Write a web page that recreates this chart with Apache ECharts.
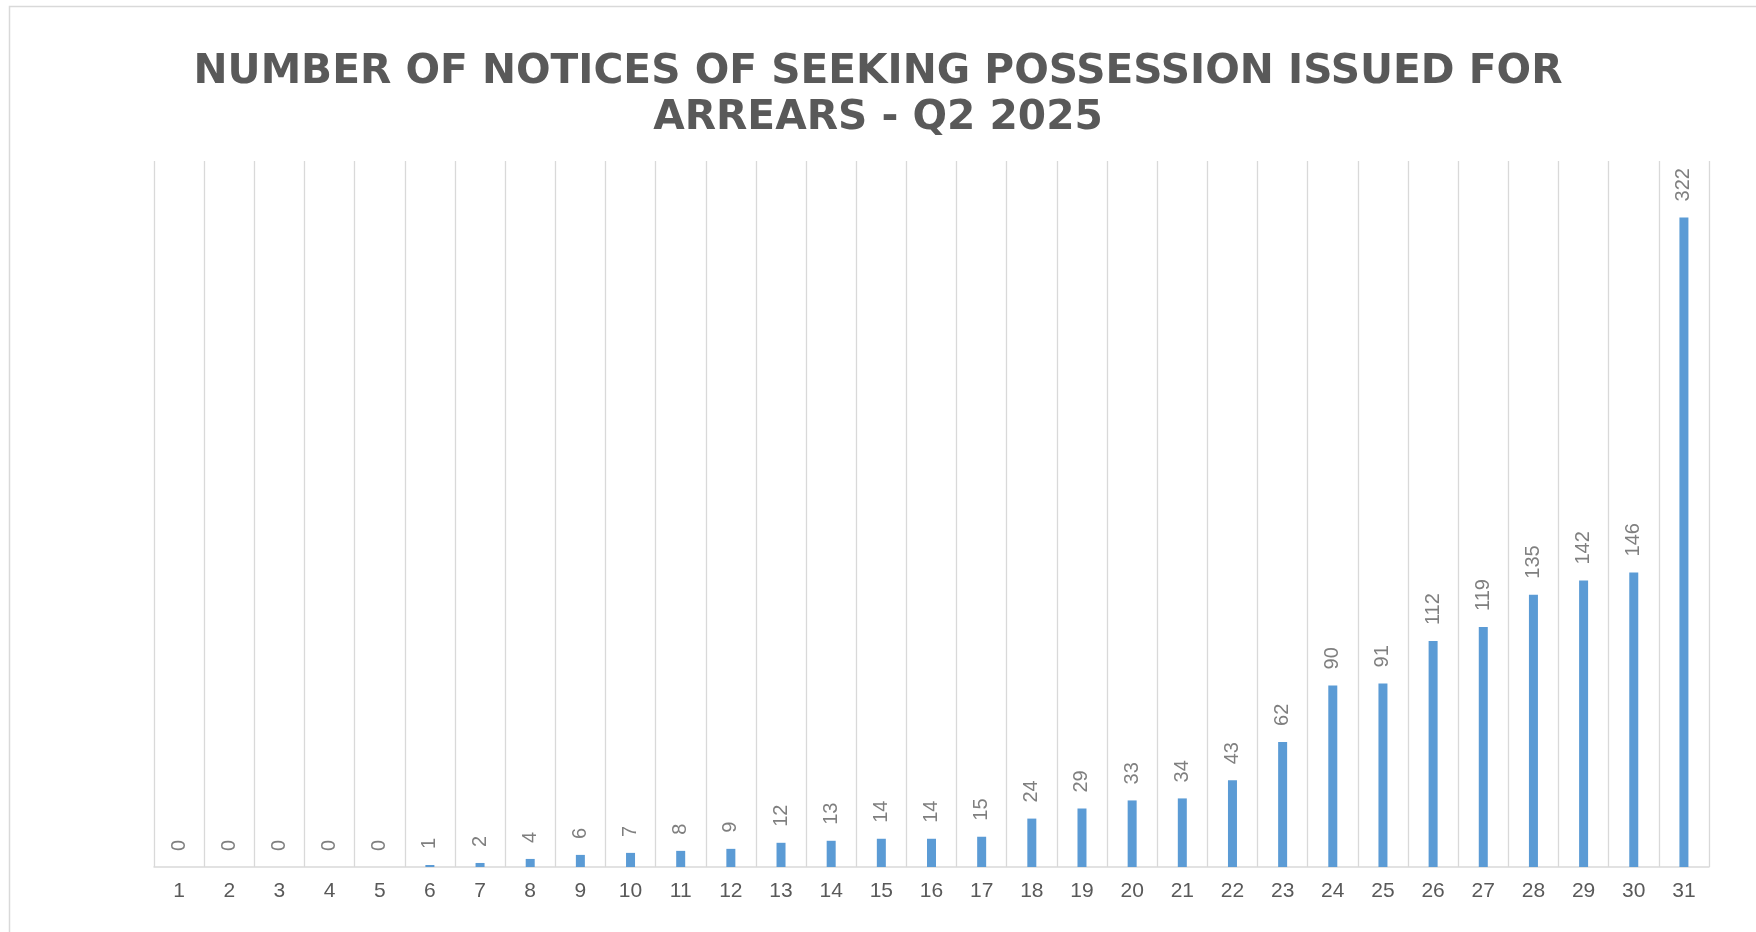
<!DOCTYPE html>
<html>
<head>
<meta charset="utf-8">
<script src="https://cdn.jsdelivr.net/npm/echarts@6/dist/echarts.min.js"></script>
<style>
  html, body { margin: 0; padding: 0; background: #ffffff; }
  #chart { width: 1756px; height: 932px; }
</style>
</head>
<body>
<div id="chart"></div>
<script>
// Week numbers along the bottom axis
const weeks = ['1','2','3','4','5','6','7','8','9','10','11','12','13','14','15','16',
  '17','18','19','20','21','22','23','24','25','26','27','28','29','30','31'];

// Notices of seeking possession issued for arrears
const notices = [0, 0, 0, 0, 0, 1, 2, 4, 6, 7, 8, 9, 12, 13, 14, 14, 15, 24, 29, 33,
  34, 43, 62, 90, 91, 112, 119, 135, 142, 146, 322];

const titleText = 'NUMBER OF NOTICES OF SEEKING POSSESSION ISSUED FOR\nARREARS - Q2 2025';

const chart = echarts.init(document.getElementById('chart'), null, { renderer: 'canvas' });

chart.setOption({
  backgroundColor: '#ffffff',
  animation: false,
  title: {
    text: titleText,
    left: 'center',
    top: 44,
    textStyle: {
      fontFamily: 'DejaVu Sans',
      fontWeight: 'bold',
      fontSize: 40.7,
      lineHeight: 46,
      color: '#595959'
    }
  },
  graphic: [{
    type: 'rect',
    silent: true,
    shape: { x: 9.5, y: 6.5, width: 1800, height: 1000 },
    style: { fill: 'none', stroke: '#d9d9d9', lineWidth: 1.5 }
  }],
  grid: {
    left: 154,
    right: 47,
    top: 161,
    bottom: 65,
    containLabel: false
  },
  xAxis: {
    type: 'category',
    data: weeks,
    boundaryGap: true,
    axisLine: { show: true, lineStyle: { color: '#d9d9d9', width: 1.5 } },
    axisTick: { show: false },
    axisLabel: {
      color: '#595959',
      fontFamily: 'Liberation Sans',
      fontSize: 21,
      margin: 14,
      interval: 0
    },
    splitLine: { show: true, lineStyle: { color: '#d9d9d9', width: 1.3 } }
  },
  yAxis: {
    type: 'value',
    min: 0,
    max: 350,
    interval: 50,
    show: false,
    splitLine: { show: false }
  },
  series: [{
    type: 'bar',
    data: notices,
    barWidth: 9,
    itemStyle: { color: '#5b9bd5' },
    label: {
      show: true,
      position: 'top',
      rotate: 90,
      align: 'left',
      verticalAlign: 'middle',
      distance: 16,
      color: '#7f7f7f',
      fontFamily: 'Liberation Sans',
      fontSize: 20
    }
  }]
});
</script>
</body>
</html>
